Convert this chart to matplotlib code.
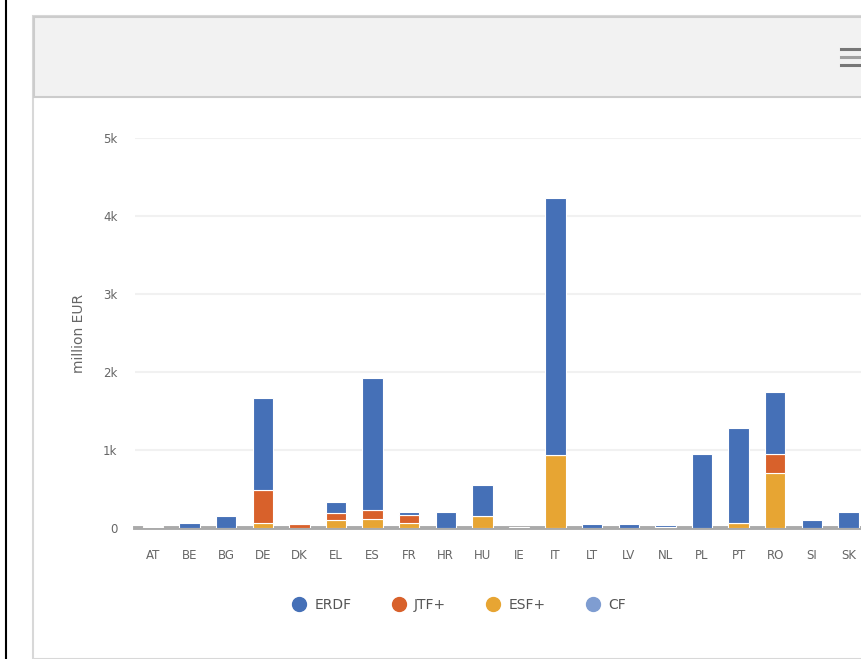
import numpy as np
import matplotlib.pyplot as plt
from matplotlib.patches import Rectangle
from matplotlib.lines import Line2D

# Member states shown on the axis
countries = ["AT", "BE", "BG", "DE", "DK", "EL", "ES", "FR", "HR", "HU",
             "IE", "IT", "LT", "LV", "NL", "PL", "PT", "RO", "SI", "SK"]

# Values in million EUR
erdf = [0, 60, 160, 1180, 0, 140, 1690, 40, 200, 400,
        15, 3290, 45, 45, 20, 950, 1210, 790, 100, 210]
jtf = [20, 0, 0, 430, 45, 90, 120, 100, 0, 0,
       0, 0, 0, 0, 15, 0, 0, 250, 0, 0]
esf = [10, 0, 0, 60, 0, 100, 110, 70, 0, 150,
       0, 940, 0, 0, 0, 0, 70, 700, 0, 0]
cf = [0] * len(countries)

series_names = ["ERDF", "JTF+", "ESF+", "CF"]
colors = {"ERDF": "#4570b7", "JTF+": "#d8612b", "ESF+": "#e7a533", "CF": "#7f9dd1"}

yticks = [0, 1000, 2000, 3000, 4000, 5000]
ytick_labels = ["0", "1k", "2k", "3k", "4k", "5k"]

W, H = 861, 659
fig = plt.figure(figsize=(W / 100, H / 100), dpi=100)

# Page / panel decorations (pixel coords converted to figure fraction)
def fx(px):
    return px / W

def fy(py):
    return 1 - py / H

fig.add_artist(Line2D([fx(5.5), fx(5.5)], [0, 1], color="black", lw=1.5, zorder=-5))
# panel border
fig.add_artist(Rectangle((fx(33), 0), fx(900) - fx(33), fy(16), facecolor="white",
                         edgecolor="#d8d8d8", lw=1.5, zorder=-5))
# header
fig.add_artist(Rectangle((fx(34), fy(97)), fx(900) - fx(34), fy(17) - fy(97),
                         facecolor="#f2f2f2", edgecolor="#cccccc", lw=1.5, zorder=-4))
# menu icon
for yy, c in [(48.5, "#777777"), (57, "#a0a0a0"), (65, "#777777")]:
    fig.add_artist(Line2D([fx(841), fx(870)], [fy(yy), fy(yy)], color=c, lw=2.2, zorder=-3))

# Plot area
x0, x1 = 134.7, 134.7 + 20 * 36.6
ax = fig.add_axes([fx(x0), fy(528), fx(x1) - fx(x0), fy(138) - fy(528)])
ax.set_zorder(2)
ax.patch.set_alpha(0)

x = np.arange(len(countries))
bottom = np.zeros(len(countries))
# stacked from the bottom: CF, ESF+, JTF+, ERDF
for name, vals in [("CF", cf), ("ESF+", esf), ("JTF+", jtf), ("ERDF", erdf)]:
    vals = np.array(vals, dtype=float)
    ax.bar(x, vals, bottom=bottom, width=0.56, color=colors[name],
           edgecolor="white", linewidth=0.8, zorder=3)
    bottom += vals

ax.set_xlim(-0.5, len(countries) - 0.5)
ax.set_ylim(0, 5000)
ax.set_xticks(x)
ax.set_xticklabels(countries, fontsize=8.5, color="#666666")
ax.set_yticks(yticks)
ax.set_yticklabels(ytick_labels, fontsize=8.5, color="#666666")
ax.tick_params(axis="both", length=0)
ax.tick_params(axis="x", pad=15)
ax.tick_params(axis="y", pad=12.5)
ax.grid(axis="y", color="#f1f1f1", lw=1.5, zorder=0)
ax.set_axisbelow(True)
for s in ["top", "right", "left"]:
    ax.spines[s].set_visible(False)
ax.spines["bottom"].set_color("#aaaaaa")
ax.spines["bottom"].set_linewidth(2.8)
ax.spines["bottom"].set_zorder(2)

ax.set_ylabel("million EUR", fontsize=10, color="#666666", labelpad=12)

# Legend
handles = [Line2D([0], [0], marker="o", color="none", markerfacecolor=colors[n],
                  markeredgecolor=colors[n], markersize=10, label=n) for n in series_names]
leg = fig.legend(handles=handles, loc="center", bbox_to_anchor=(fx(459), fy(605)),
                 ncol=4, frameon=False, fontsize=10, handletextpad=0.6,
                 columnspacing=2.9, handlelength=1.0)
for t in leg.get_texts():
    t.set_color("#555555")

plt.savefig("out.png", dpi=100)
